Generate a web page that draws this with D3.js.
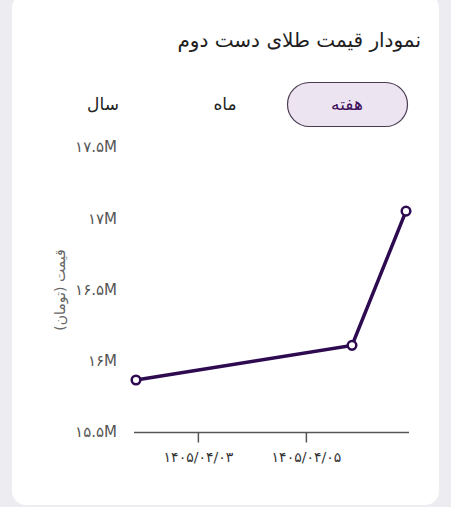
<!DOCTYPE html>
<html>
<head>
<meta charset="utf-8">
<script src="https://cdn.jsdelivr.net/npm/d3@7"></script>
<style>
  html, body { margin: 0; padding: 0; background: #ececf1; }
  svg { display: block; font-family: "DejaVu Sans", sans-serif; }
</style>
</head>
<body>
<svg id="chart" width="451" height="507"></svg>
<script>
// data (day of month 1405/04, 20:30 of the previous day)
var days = [1.854, 5.854, 6.854];
var prices = [15.865, 16.108, 17.05]; // million toman
var yTicks = [15.5, 16, 16.5, 17, 17.5];
var xTicks = [3, 5];
var xTickLabels = ["۱۴۰۵/۰۴/۰۳", "۱۴۰۵/۰۴/۰۵"];
var tabs = ["هفته", "ماه", "سال"];
var title = "نمودار قیمت طلای دست دوم";
var yLabel = "قیمت (تومان)";

var data = days.map((d, i) => ({ day: d, price: prices[i] }));

function toFa(s) {
    return String(s).replace(/\d/g, c => "۰۱۲۳۴۵۶۷۸۹"[+c]);
}

const svg = d3.select("#chart");

// card
svg.append("rect")
    .attr("x", 12).attr("y", -6)
    .attr("width", 427).attr("height", 511)
    .attr("rx", 14)
    .attr("fill", "#ffffff");

// title (rtl: start anchor sits on the right)
svg.append("text")
    .attr("x", 421).attr("y", 40)
    .attr("text-anchor", "start")
    .attr("dominant-baseline", "central")
    .attr("font-size", 20)
    .attr("fill", "#1e1e1e")
    .style("direction", "rtl")
    .text(title);

// tabs
const tabX = [347, 225, 103];
svg.append("rect")
    .attr("x", 287.5).attr("y", 82.5)
    .attr("width", 120).attr("height", 44)
    .attr("rx", 22)
    .attr("fill", "#ede4f1")
    .attr("stroke", "#4a3a52")
    .attr("stroke-width", 1.2);

svg.selectAll(".tab")
    .data(tabs)
    .enter()
    .append("text")
    .attr("class", "tab")
    .attr("x", (d, i) => tabX[i])
    .attr("y", 104)
    .attr("text-anchor", "middle")
    .attr("dominant-baseline", "central")
    .attr("font-size", 17)
    .attr("fill", (d, i) => i === 0 ? "#3b0f5c" : "#222222")
    .style("direction", "rtl")
    .text(d => d);

// scales
const x = d3.scaleLinear()
    .domain(d3.extent(days))
    .range([136, 406]);

const y = d3.scaleLinear()
    .domain([15.5, 17.5])
    .range([432, 147]);

// y tick labels (no axis line)
svg.append("g")
    .attr("transform", "translate(117,0)")
    .call(d3.axisLeft(y).tickValues(yTicks).tickSize(0).tickPadding(0)
        .tickFormat(d => toFa(d3.format(".1~f")(d)) + "M"))
    .call(g => g.select(".domain").remove())
    .selectAll("text")
    .attr("font-family", "DejaVu Sans, sans-serif")
    .attr("font-size", 15)
    .attr("fill", "#555555");

// y axis title
svg.append("text")
    .attr("transform", "translate(60,290) rotate(-90)")
    .attr("text-anchor", "middle")
    .attr("dominant-baseline", "central")
    .attr("font-size", 14)
    .attr("fill", "#666666")
    .style("direction", "rtl")
    .text(yLabel);

// x axis
const xAxis = svg.append("g")
    .attr("transform", "translate(0,432.5)")
    .call(d3.axisBottom(x).tickValues(xTicks).tickSize(10).tickPadding(10)
        .tickFormat((d, i) => xTickLabels[i]));
xAxis.select(".domain").remove();
xAxis.selectAll(".tick line").attr("stroke", "#555555").attr("stroke-width", 1.5);
xAxis.selectAll("text")
    .attr("font-family", "DejaVu Sans, sans-serif")
    .attr("font-size", 14)
    .attr("fill", "#333333");
xAxis.append("line")
    .attr("x1", x.range()[0] - 2).attr("x2", x.range()[1] + 3)
    .attr("stroke", "#555555")
    .attr("stroke-width", 1.5);

// line
svg.append("path")
    .datum(data)
    .attr("fill", "none")
    .attr("stroke", "#2e0b50")
    .attr("stroke-width", 3.5)
    .attr("d", d3.line().x(d => x(d.day)).y(d => y(d.price)));

// dots
svg.selectAll("circle.dot")
    .data(data)
    .enter()
    .append("circle")
    .attr("class", "dot")
    .attr("cx", d => x(d.day))
    .attr("cy", d => y(d.price))
    .attr("r", 4.3)
    .attr("fill", "#ffffff")
    .attr("stroke", "#2e0b50")
    .attr("stroke-width", 2.5);
</script>
</body>
</html>
